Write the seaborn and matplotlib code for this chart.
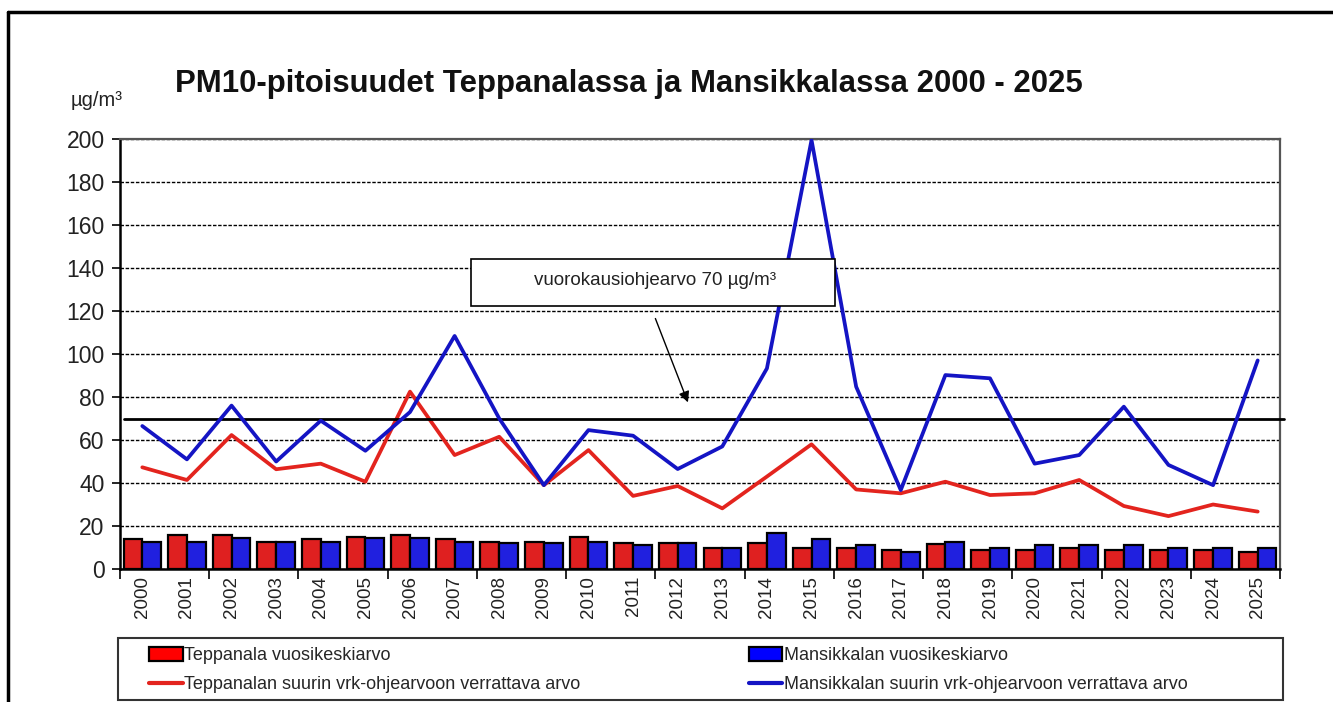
import numpy as np
import pandas as pd
import matplotlib
matplotlib.use('Agg')
import matplotlib.pyplot as plt
import seaborn as sns
from matplotlib.patches import Rectangle, Patch
from matplotlib.lines import Line2D

# ---- data ----
years = [str(y) for y in range(2000, 2026)]

teppanala_mean = [14.0, 16.0, 16.0, 12.4, 14.0, 14.7, 16.0, 14.0, 12.4, 12.4,
                  14.7, 11.9, 11.9, 9.8, 12.0, 9.8, 9.8, 9.0, 11.6, 9.0,
                  9.0, 9.8, 9.0, 9.0, 9.0, 7.7]
mansikkala_mean = [12.7, 12.7, 14.2, 12.4, 12.7, 14.2, 14.2, 12.7, 11.9, 11.9,
                   12.7, 11.3, 11.9, 9.8, 16.7, 14.0, 11.2, 7.7, 12.7, 9.8,
                   11.2, 11.2, 11.2, 9.8, 9.8, 9.8]

teppanala_max = [47.3, 41.4, 62.3, 46.4, 49.0, 40.6, 82.5, 53.0, 61.5, 39.0,
                 55.3, 34.0, 38.6, 28.2, 43.0, 58.0, 37.0, 35.2, 40.6, 34.4,
                 35.2, 41.4, 29.3, 24.6, 30.0, 26.7]
mansikkala_max = [66.5, 51.0, 76.0, 50.0, 69.0, 55.0, 73.0, 108.4, 70.0, 39.0,
                  64.6, 62.0, 46.5, 57.0, 93.3, 199.5, 84.8, 36.7, 90.2, 88.7,
                  49.0, 53.0, 75.5, 48.4, 39.0, 97.0]

guide_value = 70

bar_labels = ['Teppanala vuosikeskiarvo', 'Mansikkalan vuosikeskiarvo']
line_labels = ['Teppanalan suurin vrk-ohjearvoon verrattava arvo',
               'Mansikkalan suurin vrk-ohjearvoon verrattava arvo']

bar_colors = ['#FF0000', '#0000FF']
line_colors = ['#E3241E', '#1414C4']

df_bars = pd.DataFrame({
    'year': years * 2,
    'value': teppanala_mean + mansikkala_mean,
    'series': [bar_labels[0]] * len(years) + [bar_labels[1]] * len(years),
})

# ---- style ----
sns.set_style('white')
plt.rcParams['font.family'] = ['Liberation Sans', 'DejaVu Sans']

W, H = 1333, 702
fig = plt.figure(figsize=(W / 100, H / 100), dpi=100)
ax = fig.add_axes([120 / W, 1 - 569 / H, (1280 - 120) / W, (569 - 139) / H])

sns.barplot(data=df_bars, x='year', y='value', hue='series', palette=bar_colors,
            edgecolor='black', linewidth=1.6, width=0.84, legend=False, ax=ax,
            zorder=3)

pos = np.arange(len(years))
sns.lineplot(x=pos, y=teppanala_max, color=line_colors[0], lw=2.7, ax=ax,
             legend=False, zorder=4)
sns.lineplot(x=pos, y=mansikkala_max, color=line_colors[1], lw=2.7, ax=ax,
             legend=False, zorder=5)

# guide value line (extends a little past the plot area)
ax.plot([-0.42, 25.58], [guide_value, guide_value], color='black', lw=2.0,
        zorder=4.5, clip_on=False)

ax.set_xlim(-0.5, len(years) - 0.5)
ax.set_ylim(0, 200)
ax.set_yticks(range(0, 201, 20))
ax.set_xlabel('')
ax.set_ylabel('')

ax.yaxis.grid(True, linestyle=(0, (2.5, 1.2)), color='black', lw=1.0, zorder=1)
ax.xaxis.grid(False)

ax.tick_params(axis='y', labelsize=16.5, length=6, width=1.2, color='black',
               pad=5, direction='out', left=True)
ax.tick_params(axis='x', which='major', labelsize=13.5, length=0, pad=5,
               labelrotation=90)
ax.set_xticks(np.arange(-0.5, len(years), 2), minor=True)
ax.tick_params(axis='x', which='minor', length=7, width=1.2, color='black',
               direction='out', bottom=True)
for lab in ax.get_xticklabels() + ax.get_yticklabels():
    lab.set_color('#222222')

for side in ['left', 'bottom']:
    ax.spines[side].set_color('black')
    ax.spines[side].set_linewidth(1.8)
for side in ['top', 'right']:
    ax.spines[side].set_color('#555555')
    ax.spines[side].set_linewidth(1.6)

# ---- annotation box and arrow ----
box_x0, box_x1 = 7.37, 15.52
box_y0, box_y1 = 122.3, 144.2
ax.add_patch(Rectangle((box_x0, box_y0), box_x1 - box_x0, box_y1 - box_y0,
                       facecolor='white', edgecolor='black', lw=1.2, zorder=6))
ax.text((box_x0 + box_x1) / 2 + 0.05, (box_y0 + box_y1) / 2 + 0.8,
        'vuorokausiohjearvo 70 µg/m³', ha='center', va='center',
        fontsize=13.5, color='#222222', zorder=7)
ax.annotate('', xy=(12.23, 77.5), xytext=(11.5, 116.5),
            arrowprops=dict(arrowstyle='-|>', color='black', lw=1.0,
                            mutation_scale=16, shrinkA=0, shrinkB=0),
            zorder=7)

# ---- title and unit label ----
fig.text(629 / W, 1 - 84 / H,
         'PM10-pitoisuudet Teppanalassa ja Mansikkalassa 2000 - 2025',
         ha='center', va='center', fontsize=22.4, fontweight='bold',
         color='#111111')
fig.text(97 / W, 1 - 100 / H, 'µg/m³', ha='center', va='center',
         fontsize=14.5, color='#222222')

# ---- legend ----
handles = [
    Patch(facecolor=bar_colors[0], edgecolor='black', lw=1.6),
    Line2D([0], [0], color=line_colors[0], lw=3),
    Patch(facecolor=bar_colors[1], edgecolor='black', lw=1.6),
    Line2D([0], [0], color=line_colors[1], lw=3),
]
labels = [bar_labels[0], line_labels[0], bar_labels[1], line_labels[1]]
fig.legend(handles, labels, loc='upper left',
           bbox_to_anchor=(142 / W, 1 - 640 / H), ncol=2, frameon=False,
           prop={'size': 13}, handlelength=1.85,
           handleheight=0.8, handletextpad=0.1, labelspacing=0.65,
           columnspacing=9.3, borderaxespad=0)
fig.add_artist(Rectangle((118 / W, 1 - 700 / H), (1283 - 118) / W,
                         (700 - 638) / H, transform=fig.transFigure,
                         facecolor='none', edgecolor='#333333', lw=1.5))

# ---- outer frame (left and top edges) ----
fig.add_artist(Line2D([8 / W, 8 / W], [0, 1 - 12 / H],
                      transform=fig.transFigure, color='black', lw=2.5))
fig.add_artist(Line2D([8 / W, 1], [1 - 12 / H, 1 - 12 / H],
                      transform=fig.transFigure, color='black', lw=2.5))

fig.savefig('out.png', dpi=100)
